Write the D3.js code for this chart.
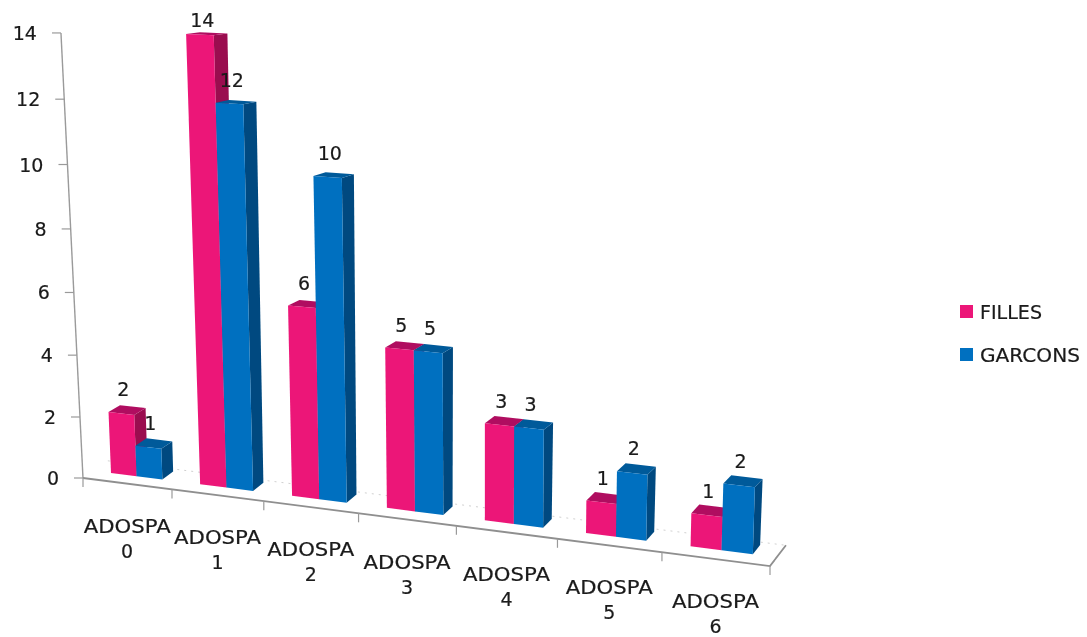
<!DOCTYPE html>
<html>
<head>
<meta charset="utf-8">
<script src="https://cdn.jsdelivr.net/npm/d3@7"></script>
<style>
  html, body { margin: 0; padding: 0; background: #fff; }
  text { font-family: "DejaVu Sans", sans-serif; font-size: 19px; fill: #1a1a1a; stroke: #1a1a1a; stroke-width: 0.2px; }
</style>
</head>
<body>
<div id="chart"></div>
<script>
var categories = ['ADOSPA 0', 'ADOSPA 1', 'ADOSPA 2', 'ADOSPA 3', 'ADOSPA 4', 'ADOSPA 5', 'ADOSPA 6'];
var series = ['FILLES', 'GARCONS'];
var filles = [2, 14, 6, 5, 3, 1, 1];
var garcons = [1, 12, 10, 5, 3, 2, 2];
var yTicks = [0, 2, 4, 6, 8, 10, 12, 14];

var width = 1087,
height = 637;

var colors = {
  FILLES: { front: '#EC1678', side: '#9A0B50', top: '#B00D60' },
  GARCONS: { front: '#0070C0', side: '#004A80', top: '#005A9A' }
};

// the floor runs x 0..7, the height 0..1, the depth 0..1, seen through one perspective camera
const xScale = d3.scaleBand().domain(categories).range([0, 7]);
const barScale = d3.scaleBand().domain(series).range([0.2, 0.78]);
const yScale = d3.scaleLinear().domain([0, 14]).range([0, 1]);

var z0 = 0.42,
z1 = 0.87;

function project(x, y, z) {
  var w = 1 - 0.01529 * x - 0.0469 * y + 0.0156 * z;
  // the y * z terms flatten the tops of the tall bars, a plain camera leaves them too steep
  return [
    (83 + 86.37 * x - 24.9 * y + 26.5 * z + 5.5 * y * z) / w,
    (478 + 3.92 * x - 446.6 * y - 10 * z + 7 * y * Math.max(z - z0, 0)) / w
  ];
}

const line = d3.line();

const svg = d3.select('#chart').
append('svg').
attr('width', width).
attr('height', height);

const defs = svg.append('defs');
defs.append('filter').
attr('id', 'soft').
append('feGaussianBlur').
attr('stdDeviation', 0.45);

const chart = svg.append('g').attr('filter', 'url(#soft)');

// dotted back edge of the floor
chart.append('path').
attr('d', line([project(0, 0, 1), project(7, 0, 1)])).
attr('fill', 'none').
attr('stroke', '#d0d0d0').
attr('stroke-dasharray', '2,5');

// value axis
chart.append('path').
attr('d', line([project(0, 0, 0), project(0, yScale(14), 0)])).
attr('fill', 'none').
attr('stroke', '#9a9a9a').
attr('stroke-width', 1.4);

chart.selectAll('.ytick').
data(yTicks).
enter().
append('path').
attr('class', 'ytick').
attr('d', d => {
  var p = project(0, yScale(d), 0);
  return line([[p[0] - 9, p[1]], p]);
}).
attr('stroke', '#9a9a9a').
attr('stroke-width', 1.2);

chart.selectAll('.ylabel').
data(yTicks).
enter().
append('text').
attr('class', 'ylabel').
attr('x', d => project(0, yScale(d), 0)[0] - 24).
attr('y', d => project(0, yScale(d), 0)[1] + 7).
attr('text-anchor', 'end').
text(d => d);

// floor front edge and right edge
chart.append('path').
attr('d', line([project(0, 0, 0), project(7, 0, 0), project(7, 0, 1)])).
attr('fill', 'none').
attr('stroke', '#8f8f8f').
attr('stroke-width', 1.8);

chart.selectAll('.xtick').
data(d3.range(8)).
enter().
append('path').
attr('class', 'xtick').
attr('d', d => {
  var p = project(d, 0, 0);
  return line([p, [p[0], p[1] + 9]]);
}).
attr('stroke', '#9a9a9a').
attr('stroke-width', 1.2);

// bars, left to right so the nearer ones paint over
categories.forEach((c, i) => {
  series.forEach((s, j) => {
    var v = j == 0 ? filles[i] : garcons[i];
    var x0 = xScale(c) + barScale(s),
    x1 = x0 + barScale.bandwidth(),
    h = yScale(v);
    var g = chart.append('g').attr('class', 'bar');

    g.append('path').
    attr('d', line([project(x1, 0, z0), project(x1, 0, z1), project(x1, h, z1), project(x1, h, z0)]) + 'Z').
    attr('fill', colors[s].side);

    g.append('path').
    attr('d', line([project(x0, h, z0), project(x1, h, z0), project(x1, h, z1), project(x0, h, z1)]) + 'Z').
    attr('fill', colors[s].top);

    g.append('path').
    attr('d', line([project(x0, 0, z0), project(x1, 0, z0), project(x1, h, z0), project(x0, h, z0)]) + 'Z').
    attr('fill', colors[s].front);
  });
});

// value labels go last, the small ones sit on the bar behind them
categories.forEach((c, i) => {
  series.forEach((s, j) => {
    var v = j == 0 ? filles[i] : garcons[i];
    var p = project(xScale(c) + barScale(s) + barScale.bandwidth() / 2, yScale(v), 0.5);
    chart.append('text').
    attr('class', 'value').
    attr('x', p[0]).
    attr('y', Math.max(p[1] - 16, 27)).
    attr('text-anchor', 'middle').
    text(v);
  });
});

// category labels on two lines
categories.forEach((c, i) => {
  var p = project(xScale(c) + xScale.bandwidth() / 2, 0, 0);
  var parts = c.split(' ');
  chart.append('text').
  attr('x', p[0]).
  attr('y', p[1] + 49).
  attr('text-anchor', 'middle').
  attr('textLength', 87).
  attr('lengthAdjust', 'spacingAndGlyphs').
  text(parts[0]);
  chart.append('text').
  attr('x', p[0]).
  attr('y', p[1] + 74).
  attr('text-anchor', 'middle').
  text(parts[1]);
});

// legend
const legend = chart.selectAll('.legend').
data(series).
enter().
append('g').
attr('class', 'legend').
attr('transform', (d, i) => 'translate(960,' + (305 + i * 43) + ')');

legend.append('rect').
attr('width', 13).
attr('height', 13).
attr('fill', d => colors[d].front);

legend.append('text').
attr('x', 20).
attr('y', 13.5).
attr('textLength', d => d == 'FILLES' ? 62 : 100).
attr('lengthAdjust', 'spacingAndGlyphs').
text(d => d);
</script>
</body>
</html>
